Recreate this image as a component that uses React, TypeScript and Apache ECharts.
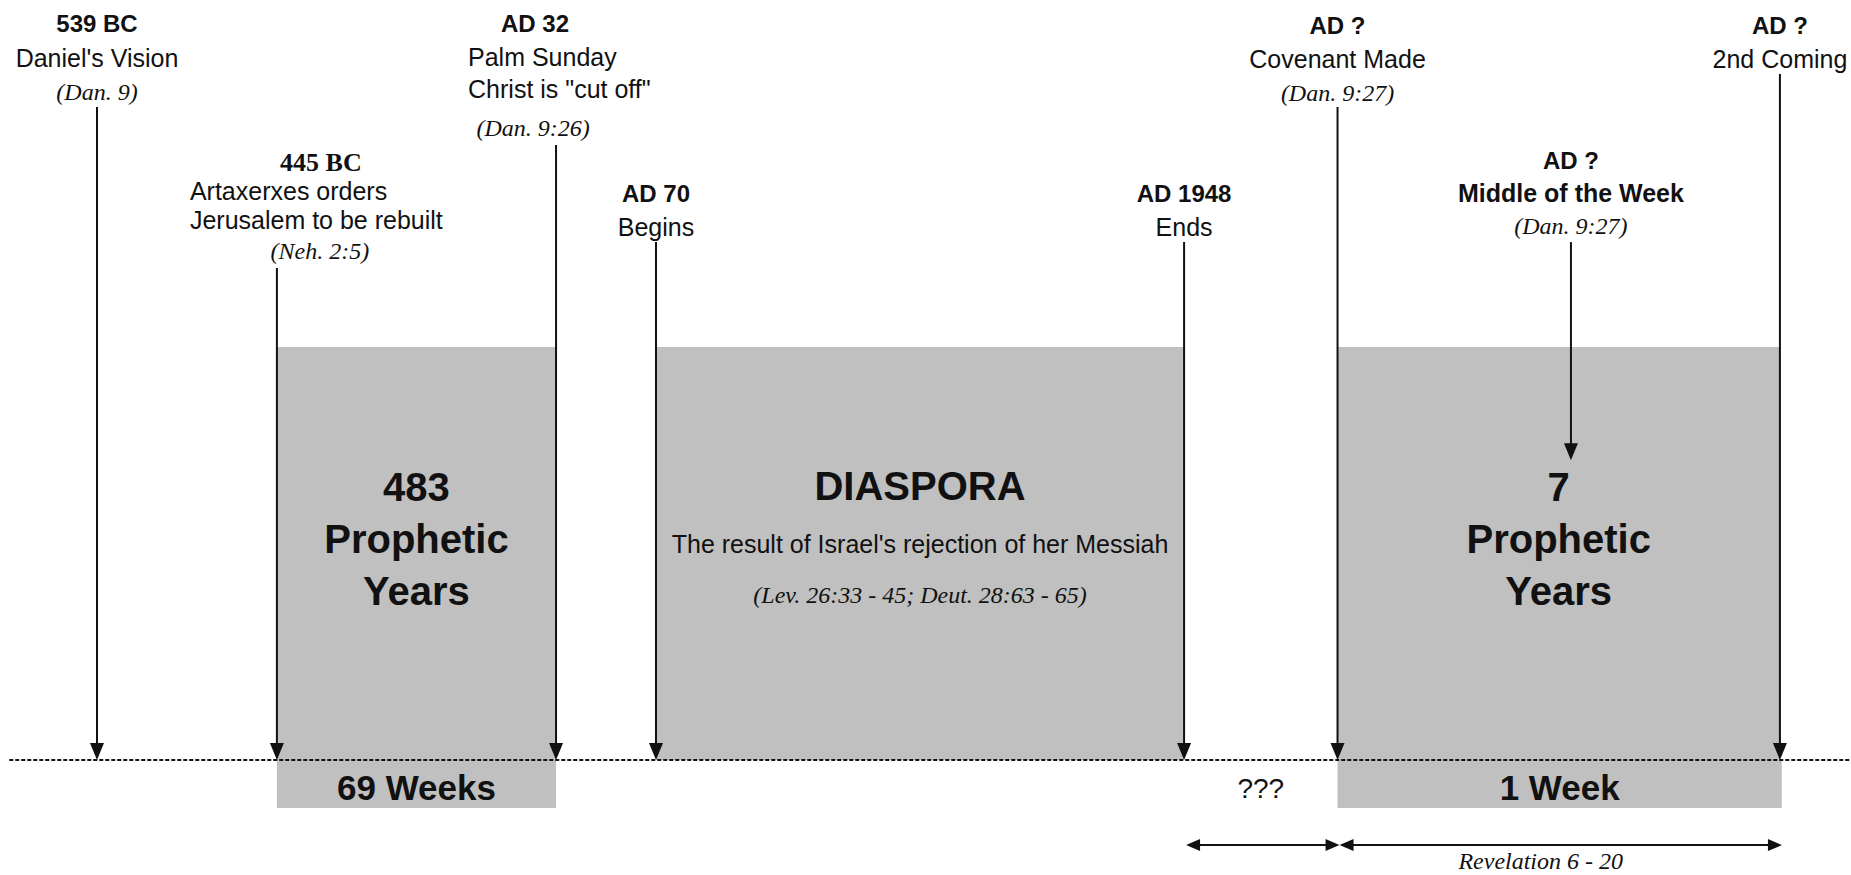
import React, { useEffect, useRef } from "react";
import * as echarts from "echarts";

// x positions: percent of the timeline width (0-100); heights: units where box top = 100, timeline = 0
const eventTitles = ["539 BC", "445 BC", "AD 32", "AD 70", "AD 1948", "AD ?", "AD ?", "AD ?"];
const eventLines = [
  ["Daniel's Vision"],
  ["Artaxerxes orders", "Jerusalem to be rebuilt"],
  ["Palm Sunday", 'Christ is "cut off"'],
  ["Begins"],
  ["Ends"],
  ["Covenant Made"],
  ["Middle of the Week"],
  ["2nd Coming"],
];
const eventRefs = ["(Dan. 9)", "(Neh. 2:5)", "(Dan. 9:26)", "", "", "(Dan. 9:27)", "(Dan. 9:27)", ""];
const eventX = [5.24, 14.96, 30.04, 35.44, 63.97, 72.26, 84.87, 96.16];
const eventStart = [158.1, 119.1, 148.9, 125.4, 125.4, 158.1, 125.4, 166.1];
const eventEnd = [0, 0, 0, 0, 0, 0, 72.6, 0];

const periodStart = [14.96, 35.44, 72.26];
const periodEnd = [30.04, 63.97, 96.16];
const periodHeight = [100, 100, 100];
const periodLines = [
  ["483", "Prophetic", "Years"],
  ["DIASPORA", "The result of Israel's rejection of her Messiah", "(Lev. 26:33 - 45; Deut. 28:63 - 65)"],
  ["7", "Prophetic", "Years"],
];

const weekLabels = ["69 Weeks", "???", "1 Week"];
const weekStart = [14.96, 63.97, 72.26];
const weekEnd = [30.04, 72.26, 96.26];
const weekDepth = [-11.6, -11.6, -11.6];
const weekFilled = [true, false, true];

const spanStart = [63.97, 72.26];
const spanEnd = [72.26, 96.16];
const spanLevel = [-20.6, -20.6];
const spanLabels = ["", "Revelation 6 - 20"];

const timelineX = [0.5, 100];

// ---------- layout / styles ----------
const SANS = '"Liberation Sans", Arial, sans-serif';
const SERIF = '"Liberation Serif", "Times New Roman", serif';
const INK = "#111";
const BOX = "#c0c0c0";

type Row = { dx: number; dy: number; align: string };
const eventLayout: { title: Row; lines: Row[]; ref?: Row; titleSerif?: boolean; boldLines?: boolean }[] = [
  { title: { dx: 0, dy: -84, align: "center" }, lines: [{ dx: 0, dy: -49, align: "center" }], ref: { dx: 0, dy: -15, align: "center" } },
  { title: { dx: 44, dy: -106, align: "center" }, lines: [{ dx: -87, dy: -77, align: "left" }, { dx: -87, dy: -48, align: "left" }], ref: { dx: 43, dy: -17, align: "center" }, titleSerif: true },
  { title: { dx: -21, dy: -122, align: "center" }, lines: [{ dx: -88, dy: -88, align: "left" }, { dx: -88, dy: -56, align: "left" }], ref: { dx: -23, dy: -17, align: "center" } },
  { title: { dx: 0, dy: -49, align: "center" }, lines: [{ dx: 0, dy: -15, align: "center" }] },
  { title: { dx: 0, dy: -49, align: "center" }, lines: [{ dx: 0, dy: -15, align: "center" }] },
  { title: { dx: 0, dy: -82, align: "center" }, lines: [{ dx: 0, dy: -48, align: "center" }], ref: { dx: 0, dy: -14, align: "center" } },
  { title: { dx: 0, dy: -82, align: "center" }, lines: [{ dx: 0, dy: -49, align: "center" }], ref: { dx: 0, dy: -16, align: "center" }, boldLines: true },
  { title: { dx: 0, dy: -49, align: "center" }, lines: [{ dx: 0, dy: -15, align: "center" }] },
];

const periodRowOffsets = [
  [-67, -15, 37],
  [-68, -10, 41],
  [-67, -15, 37],
];
const periodRowStyles = [
  [{ size: 40, weight: "bold", family: SANS, style: "normal" }, { size: 40, weight: "bold", family: SANS, style: "normal" }, { size: 40, weight: "bold", family: SANS, style: "normal" }],
  [{ size: 40, weight: "bold", family: SANS, style: "normal" }, { size: 25, weight: "normal", family: SANS, style: "normal" }, { size: 24, weight: "normal", family: SERIF, style: "italic" }],
  [{ size: 40, weight: "bold", family: SANS, style: "normal" }, { size: 40, weight: "bold", family: SANS, style: "normal" }, { size: 40, weight: "bold", family: SANS, style: "normal" }],
];

function txt(text: string, x: number, y: number, size: number, weight: string, family: string, style: string, align: string) {
  return {
    type: "text",
    x,
    y,
    style: {
      text,
      fill: INK,
      fontSize: size,
      fontWeight: weight,
      fontFamily: family,
      fontStyle: style,
      align,
      verticalAlign: "middle",
    },
  };
}

export default function App() {
  const ref = useRef<HTMLDivElement>(null);

  useEffect(() => {
    if (!ref.current) return;
    const chart = echarts.init(ref.current, undefined, { renderer: "svg" });

    const eventData = eventX.map((x, i) => [x, eventStart[i], eventEnd[i]]);
    const periodData = periodStart.map((s, i) => [s, periodHeight[i], periodEnd[i]]);
    const weekData = weekStart.map((s, i) => [s, weekDepth[i], weekEnd[i]]);
    const spanData = spanStart.map((s, i) => [s, spanLevel[i], spanEnd[i]]);

    chart.setOption({
      animation: false,
      backgroundColor: "#ffffff",
      grid: { left: 0, right: 0, top: 16.6, bottom: 11.75, containLabel: false },
      xAxis: { type: "value", min: 0, max: 100, show: false },
      yAxis: { type: "value", min: -25, max: 180, show: false },
      series: [
        {
          type: "custom",
          name: "periods",
          z: 1,
          clip: false,
          data: periodData,
          renderItem: (params: any, api: any) => {
            const i = params.dataIndex;
            const tl = api.coord([api.value(0), api.value(1)]);
            const br = api.coord([api.value(2), 0]);
            const cx = (tl[0] + br[0]) / 2;
            const cy = (tl[1] + br[1]) / 2;
            const children: any[] = [
              { type: "rect", shape: { x: tl[0], y: tl[1], width: br[0] - tl[0], height: br[1] - tl[1] }, style: { fill: BOX } },
            ];
            periodLines[i].forEach((t, k) => {
              const st = periodRowStyles[i][k];
              children.push(txt(t, cx, cy + periodRowOffsets[i][k], st.size, st.weight, st.family, st.style, "center"));
            });
            return { type: "group", children };
          },
        },
        {
          type: "custom",
          name: "weeks",
          z: 1,
          clip: false,
          data: weekData,
          renderItem: (params: any, api: any) => {
            const i = params.dataIndex;
            const tl = api.coord([api.value(0), 0]);
            const br = api.coord([api.value(2), api.value(1)]);
            const cx = (tl[0] + br[0]) / 2;
            const cy = (tl[1] + br[1]) / 2;
            const children: any[] = [];
            if (weekFilled[i]) {
              children.push({ type: "rect", shape: { x: tl[0], y: tl[1], width: br[0] - tl[0], height: br[1] - tl[1] }, style: { fill: BOX } });
              children.push(txt(weekLabels[i], cx, cy + 4, 35, "bold", SANS, "normal", "center"));
            } else {
              children.push(txt(weekLabels[i], cx, cy + 5, 28, "normal", SANS, "normal", "center"));
            }
            return { type: "group", children };
          },
        },
        {
          type: "line",
          name: "timeline",
          z: 2,
          data: timelineX.map((x) => [x, 0]),
          symbol: "none",
          lineStyle: { color: "#111", width: 2, type: [4, 2] },
          silent: true,
        },
        {
          type: "custom",
          name: "events",
          z: 3,
          clip: false,
          data: eventData,
          renderItem: (params: any, api: any) => {
            const i = params.dataIndex;
            const x = api.value(0);
            const top = api.coord([x, api.value(1)]);
            const tip = api.coord([x, api.value(2)]);
            const L = eventLayout[i];
            const children: any[] = [
              { type: "line", shape: { x1: top[0], y1: top[1], x2: tip[0], y2: tip[1] - 10 }, style: { stroke: INK, lineWidth: 2 } },
              { type: "polygon", shape: { points: [[tip[0] - 7, tip[1] - 17], [tip[0] + 7, tip[1] - 17], [tip[0], tip[1]]] }, style: { fill: INK } },
            ];
            children.push(
              txt(eventTitles[i], top[0] + L.title.dx, top[1] + L.title.dy, L.titleSerif ? 26 : 24, "bold", L.titleSerif ? SERIF : SANS, "normal", L.title.align)
            );
            eventLines[i].forEach((t, k) => {
              const r = L.lines[k];
              children.push(txt(t, top[0] + r.dx, top[1] + r.dy, 25, L.boldLines ? "bold" : "normal", SANS, "normal", r.align));
            });
            if (eventRefs[i] && L.ref) {
              children.push(txt(eventRefs[i], top[0] + L.ref.dx, top[1] + L.ref.dy, 24, "normal", SERIF, "italic", L.ref.align));
            }
            return { type: "group", children };
          },
        },
        {
          type: "custom",
          name: "spans",
          z: 3,
          clip: false,
          data: spanData,
          renderItem: (params: any, api: any) => {
            const i = params.dataIndex;
            const a = api.coord([api.value(0), api.value(1)]);
            const b = api.coord([api.value(2), api.value(1)]);
            const x1 = a[0] + 2;
            const x2 = b[0] + 2;
            const y = a[1];
            const children: any[] = [
              { type: "line", shape: { x1: x1 + 8, y1: y, x2: x2 - 8, y2: y }, style: { stroke: INK, lineWidth: 2 } },
              { type: "polygon", shape: { points: [[x1, y], [x1 + 14, y - 6], [x1 + 14, y + 6]] }, style: { fill: INK } },
              { type: "polygon", shape: { points: [[x2, y], [x2 - 14, y - 6], [x2 - 14, y + 6]] }, style: { fill: INK } },
            ];
            if (spanLabels[i]) {
              children.push(txt(spanLabels[i], (x1 + x2) / 2 - 20, y + 16, 24, "normal", SERIF, "italic", "center"));
            }
            return { type: "group", children };
          },
        },
      ],
    });

    return () => chart.dispose();
  }, []);

  return <div ref={ref} style={{ position: "absolute", left: 0, top: 0, width: 1851, height: 875 }} />;
}
